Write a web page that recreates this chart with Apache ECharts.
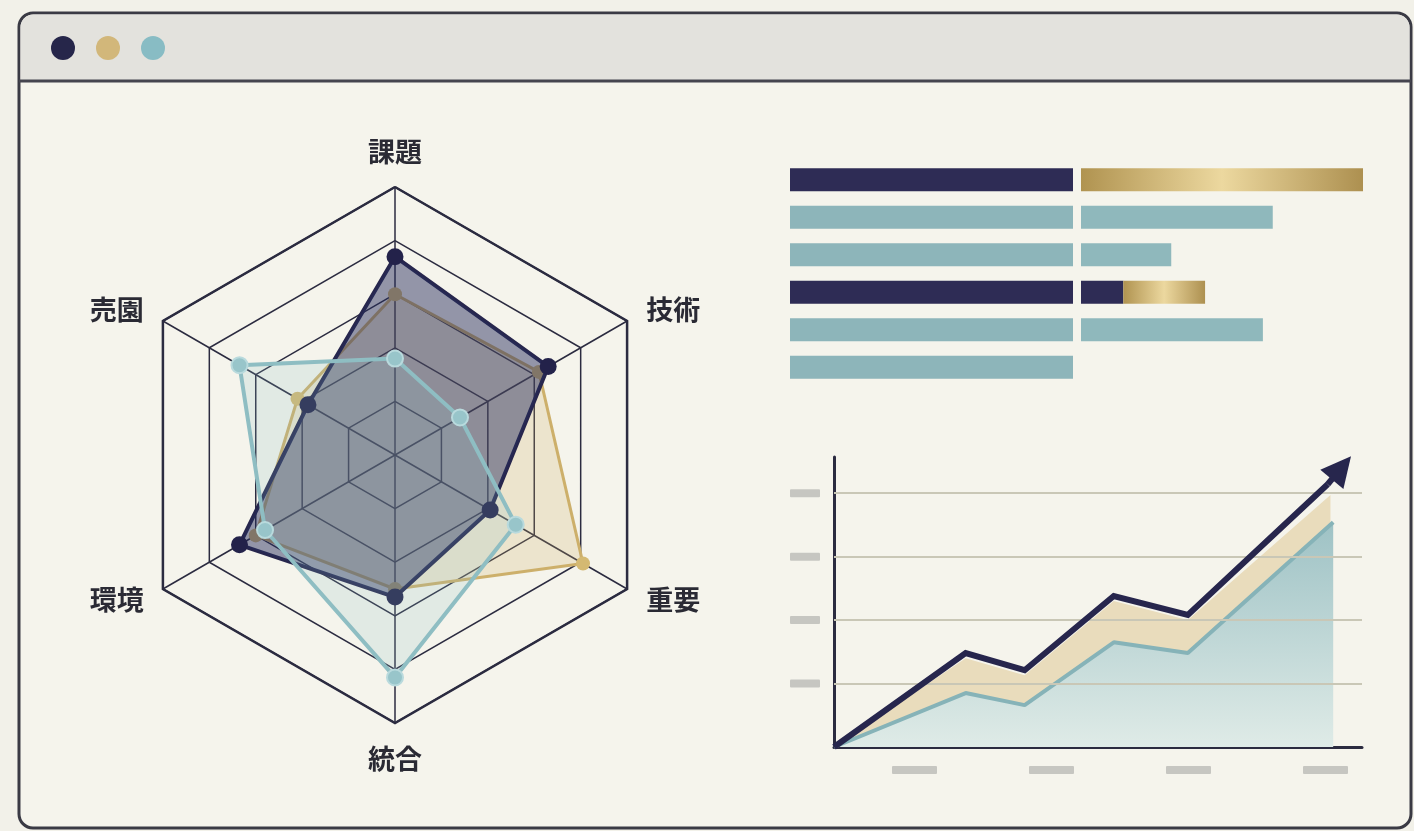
<!DOCTYPE html>
<html><head><meta charset="utf-8">
<script src="https://cdn.jsdelivr.net/npm/echarts@6/dist/echarts.min.js"></script>
<style>html,body{margin:0;padding:0;background:#f2f1e9;}#c{width:1414px;height:831px;}</style>
</head><body><div id="c"></div>
<script>
// ---- Radar data (order: top, upper-left, lower-left, bottom, lower-right, upper-right)
const radarNames = ['課題', '売園', '環境', '統合', '重要', '技術'];
const radarNavy = [0.74, 0.375, 0.67, 0.53, 0.41, 0.66];
const radarGold = [0.60, 0.42, 0.60, 0.50, 0.81, 0.62];
const radarTeal = [0.36, 0.67, 0.56, 0.83, 0.52, 0.28];

// ---- Horizontal bars (6 rows, top to bottom)
const barRows = ['r1', 'r2', 'r3', 'r4', 'r5', 'r6'];
const leftNavy = [1, 0, 0, 1, 0, 0];
const leftTeal = [0, 1, 1, 0, 1, 1];
const rightNavy = [0, 0, 0, 15, 0, 0];
const rightGold = [100, 0, 0, 29, 0, 0];
const rightTeal = [0, 68, 32, 0, 64.5, 0];

// ---- Line chart
const navyLine = [[0, 0], [0.96, 1.48], [1.39, 1.21], [2.04, 2.38], [2.58, 2.08], [3.60, 4.14]];
const navyArrowTip = [3.70, 4.40];
const tanBand = [[0, 0], [0.96, 1.40], [1.39, 1.13], [2.04, 2.30], [2.58, 2.00], [3.62, 3.97]];
const tealArea = [[0, 0], [0.96, 0.85], [1.39, 0.66], [2.04, 1.65], [2.58, 1.48], [3.64, 3.54]];
const yGridLevels = [1, 2, 3, 4];
const xLabelSlots = ['a', 'b', 'c', 'd'];

const NAVY = '#27264d', GOLD = '#cdb06c', TEAL = '#8fbec3', INK = '#2b2b40';

const chart = echarts.init(document.getElementById('c'));
const goldGrad = new echarts.graphic.LinearGradient(0, 0, 1, 0, [
  { offset: 0, color: '#b09350' }, { offset: 0.5, color: '#ecd89f' }, { offset: 1, color: '#ad9050' }
]);
const placeholder = (w) => ({ width: w, height: 8, backgroundColor: '#c6c6c1', borderRadius: 1 });

chart.setOption({
  backgroundColor: '#f2f1e9',
  animation: false,
  graphic: [
    { type: 'rect', z: -10, shape: { x: 19, y: 13, width: 1392, height: 815, r: 14 }, style: { fill: '#f5f4ec', stroke: '#3a3a44', lineWidth: 3 } },
    { type: 'rect', z: -9, shape: { x: 20.5, y: 14.5, width: 1389, height: 66, r: [13, 13, 0, 0] }, style: { fill: '#e3e2dd' } },
    { type: 'line', z: -8, shape: { x1: 19, y1: 81, x2: 1411, y2: 81 }, style: { stroke: '#45454f', lineWidth: 3 } },
    { type: 'circle', z: -8, shape: { cx: 63, cy: 48, r: 12 }, style: { fill: '#26264a' } },
    { type: 'circle', z: -8, shape: { cx: 108, cy: 48, r: 12 }, style: { fill: '#d2b77a' } },
    { type: 'circle', z: -8, shape: { cx: 153, cy: 48, r: 12 }, style: { fill: '#88bcc4' } }
  ],
  radar: [{
    center: [395, 455], radius: 268, startAngle: 90, splitNumber: 5,
    indicator: radarNames.map(n => ({ name: n, max: 1 })),
    axisName: { color: '#2a2a34', fontSize: 27, fontFamily: 'Noto Sans CJK JP', fontWeight: 'bold' },
    nameGap: 22,
    axisLine: { lineStyle: { color: INK, width: 1.5 } },
    splitLine: { lineStyle: { color: INK, width: 1.5 } },
    splitArea: { show: false }
  }, {
    center: [395, 455], radius: 268, startAngle: 90, splitNumber: 1,
    indicator: radarNames.map(n => ({ name: '', max: 1 })),
    axisName: { show: false },
    axisLine: { show: false },
    splitLine: { lineStyle: { color: INK, width: 2.5 } },
    splitArea: { show: false }
  }],
  grid: [
    { left: 790, top: 161, width: 283, height: 225 },
    { left: 1081, top: 161, width: 282, height: 225 },
    { left: 834, top: 457, width: 528, height: 290 },
    { left: 846, top: 747, width: 548, height: 1 }
  ],
  xAxis: [
    { gridIndex: 0, type: 'value', min: 0, max: 1, show: false },
    { gridIndex: 1, type: 'value', min: 0, max: 100, show: false },
    { gridIndex: 2, type: 'value', min: 0, max: 3.85, splitLine: { show: false },
      axisLine: { onZero: false, lineStyle: { color: INK, width: 3 } }, axisTick: { show: false }, axisLabel: { show: false } },
    { gridIndex: 3, type: 'category', data: xLabelSlots, boundaryGap: true,
      axisLine: { show: false }, axisTick: { show: false },
      axisLabel: { margin: 18, formatter: () => '{p| }', rich: { p: placeholder(45) } } }
  ],
  yAxis: [
    { gridIndex: 0, type: 'category', data: barRows, inverse: true, show: false },
    { gridIndex: 1, type: 'category', data: barRows, inverse: true, show: false },
    { gridIndex: 2, type: 'value', min: 0, max: 4.57, interval: 1, splitLine: { show: false },
      axisLine: { show: true, onZero: false, lineStyle: { color: INK, width: 3 } }, axisTick: { show: false },
      axisLabel: { margin: 14, showMaxLabel: false,
        formatter: v => (yGridLevels.indexOf(v) >= 0 ? '{p| }' : ''), rich: { p: placeholder(30) } } },
    { gridIndex: 3, type: 'value', show: false }
  ],
  series: [
    { type: 'radar', radarIndex: 0, z: 2, symbol: 'circle', symbolSize: 14,
      data: [{ value: radarGold, itemStyle: { color: '#d4b972' }, lineStyle: { color: GOLD, width: 3 }, areaStyle: { color: 'rgba(205,175,100,0.32)' } }] },
    { type: 'radar', radarIndex: 0, z: 3, symbol: 'circle', symbolSize: 17,
      data: [{ value: radarNavy, itemStyle: { color: '#23224a' }, lineStyle: { color: NAVY, width: 4 }, areaStyle: { color: 'rgba(38,44,92,0.68)' } }] },
    { type: 'radar', radarIndex: 0, z: 4, symbol: 'circle', symbolSize: 16,
      data: [{ value: radarTeal, itemStyle: { color: '#98c5ca', borderColor: '#b9dadd', borderWidth: 2 }, lineStyle: { color: TEAL, width: 4 }, areaStyle: { color: 'rgba(140,190,196,0.26)' } }] },

    { type: 'bar', xAxisIndex: 0, yAxisIndex: 0, stack: 'L', barWidth: 23, data: leftNavy, itemStyle: { color: '#2e2c55' } },
    { type: 'bar', xAxisIndex: 0, yAxisIndex: 0, stack: 'L', barWidth: 23, data: leftTeal, itemStyle: { color: '#8db5ba' } },
    { type: 'bar', xAxisIndex: 1, yAxisIndex: 1, stack: 'R', barWidth: 23, data: rightNavy, itemStyle: { color: '#2e2c55' } },
    { type: 'bar', xAxisIndex: 1, yAxisIndex: 1, stack: 'R', barWidth: 23, data: rightGold, itemStyle: { color: goldGrad } },
    { type: 'bar', xAxisIndex: 1, yAxisIndex: 1, stack: 'R', barWidth: 23, data: rightTeal, itemStyle: { color: '#8fb8bc' } },

    { type: 'line', xAxisIndex: 2, yAxisIndex: 2, data: tanBand, symbol: 'none', z: 2,
      lineStyle: { width: 0 }, areaStyle: { color: '#e9dcbc', opacity: 1 },
      markLine: { silent: true, symbol: 'none', label: { show: false },
        lineStyle: { color: '#c9c7b6', width: 2, type: 'solid' },
        data: yGridLevels.map(v => ({ yAxis: v })) } },
    { type: 'line', xAxisIndex: 2, yAxisIndex: 2, data: tealArea, symbol: 'none', z: 3,
      lineStyle: { color: '#86b3b8', width: 4 },
      areaStyle: { opacity: 1, color: new echarts.graphic.LinearGradient(0, 0, 0, 1, [
        { offset: 0, color: '#9ec2c5' }, { offset: 1, color: '#dfebe7' }]) } },
    { type: 'lines', coordinateSystem: 'cartesian2d', xAxisIndex: 2, yAxisIndex: 2, polyline: true, z: 5,
      lineStyle: { color: NAVY, width: 6, opacity: 1, join: 'miter' },
      data: [{ coords: navyLine }] },
    { type: 'lines', coordinateSystem: 'cartesian2d', xAxisIndex: 2, yAxisIndex: 2, z: 6,
      symbol: ['none', 'triangle'], symbolSize: [26, 30],
      lineStyle: { color: NAVY, width: 6, opacity: 1 },
      data: [{ coords: [navyLine[navyLine.length - 1], navyArrowTip] }] }
  ]
});
</script></body></html>
